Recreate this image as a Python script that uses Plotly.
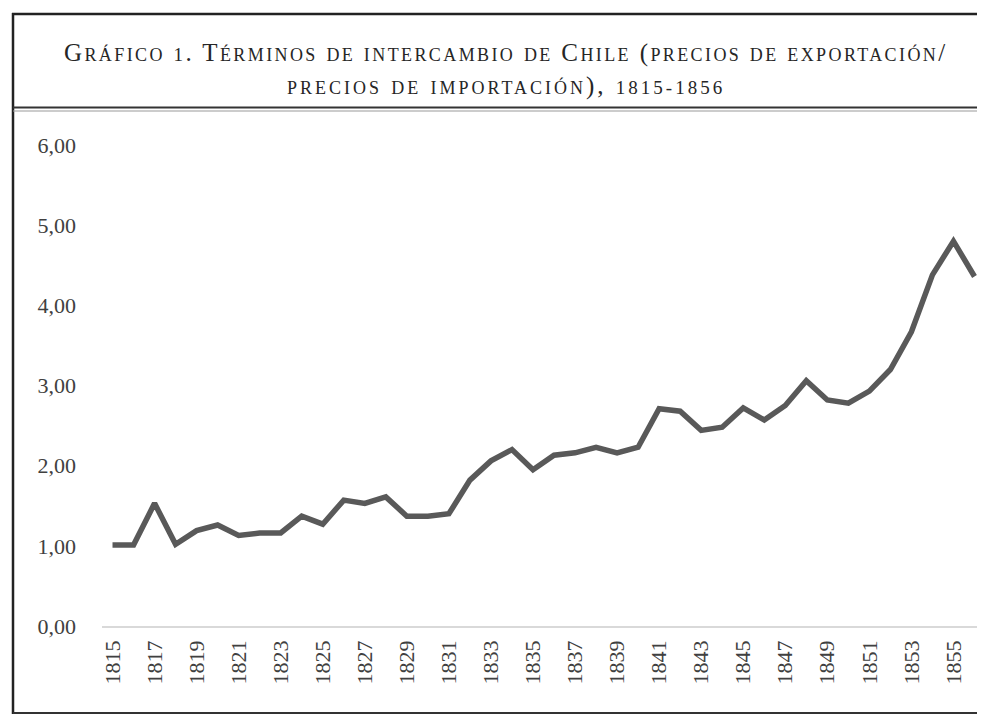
import plotly.graph_objects as go

years = list(range(1815, 1857))
terms_of_trade = [
    1.01, 1.01, 1.53, 1.02, 1.19, 1.26, 1.13, 1.16, 1.16, 1.37,
    1.27, 1.57, 1.53, 1.61, 1.37, 1.37, 1.40, 1.82, 2.06, 2.20,
    1.95, 2.13, 2.16, 2.23, 2.16, 2.23, 2.71, 2.68, 2.44, 2.48,
    2.72, 2.57, 2.75, 3.06, 2.82, 2.78, 2.93, 3.20, 3.67, 4.38,
    4.80, 4.36,
]
x_tick_vals = list(range(1815, 1856, 2))
x_tick_text = [str(y) for y in x_tick_vals]
y_tick_vals = [0, 1, 2, 3, 4, 5, 6]
y_tick_text = ["0,00", "1,00", "2,00", "3,00", "4,00", "5,00", "6,00"]

W, H = 985, 714
L, R, T, B = 94, 8, 137, 96
PW, PH = W - L - R, H - T - B


def px(x):
    return (x - L) / PW


def py(y):
    return (H - B - y) / PH


FONT = "Liberation Serif"
NUM = "<span style='font-size:19px'>"

title1 = ("<span style='letter-spacing:2.4px'>Gráfico " + NUM + "1</span>. "
          "Términos de intercambio de Chile (precios de exportación/</span>")
title2 = ("<span style='letter-spacing:3px'>precios de importación), "
          + NUM + "1815-1856</span></span>")

fig = go.Figure()
fig.add_trace(go.Scatter(
    x=years, y=terms_of_trade, mode="lines",
    line=dict(color="#595959", width=5.5),
    hoverinfo="skip", showlegend=False,
))

shapes = []
ln = lambda x0, y0, x1, y1, c, w: dict(
    type="line", xref="paper", yref="paper",
    x0=px(x0), y0=py(y0), x1=px(x1), y1=py(y1),
    line=dict(color=c, width=w), layer="above")
shapes.append(ln(5, 5, 5, 714, "#222222", 2.5))
shapes.append(ln(4, 6, 985, 6, "#222222", 2.5))
shapes.append(ln(5, 99.5, 985, 99.5, "#333333", 2))
shapes.append(ln(5, 103, 985, 103, "#9a9a9a", 1.2))
shapes.append(ln(5, 705, 985, 705, "#333333", 2))
shapes.append(ln(5, 708.5, 985, 708.5, "#9a9a9a", 1.2))

annotations = [
    dict(text=title1, xref="paper", yref="paper", x=px(497.5), y=py(45),
         xanchor="center", yanchor="middle", showarrow=False,
         font=dict(family=FONT, size=25, color="#262626", variant="small-caps")),
    dict(text=title2, xref="paper", yref="paper", x=px(498), y=py(78),
         xanchor="center", yanchor="middle", showarrow=False,
         font=dict(family=FONT, size=25, color="#262626", variant="small-caps")),
]

fig.update_layout(
    width=W, height=H, autosize=False,
    margin=dict(l=L, r=R, t=T, b=B, pad=0),
    paper_bgcolor="white", plot_bgcolor="white",
    font=dict(family=FONT, color="#404040"),
    shapes=shapes, annotations=annotations,
    xaxis=dict(
        range=[1814.5, 1856.5], tickvals=x_tick_vals, ticktext=x_tick_text,
        tickangle=-90, tickfont=dict(family=FONT, size=22, color="#404040"),
        showgrid=False, zeroline=False, showline=True,
        linecolor="#d9d9d9", linewidth=1.5, ticks="", ticklabelstandoff=4,
        fixedrange=True,
    ),
    yaxis=dict(
        range=[0, 6], tickvals=y_tick_vals, ticktext=y_tick_text,
        tickfont=dict(family=FONT, size=22, color="#404040"),
        showgrid=False, zeroline=False, showline=False, ticks="",
        ticklabelstandoff=25, fixedrange=True,
    ),
)

fig.write_html("out.html")
